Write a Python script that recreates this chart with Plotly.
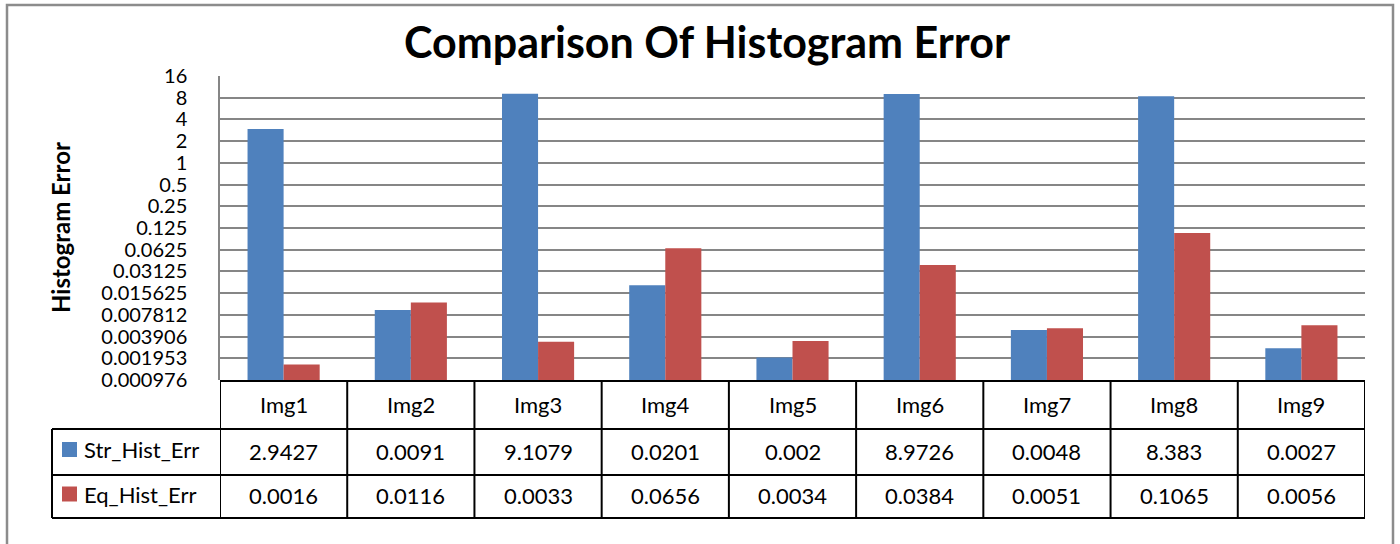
import plotly.graph_objects as go

categories = ["Img1", "Img2", "Img3", "Img4", "Img5", "Img6", "Img7", "Img8", "Img9"]
str_hist_err = [2.9427, 0.0091, 9.1079, 0.0201, 0.002, 8.9726, 0.0048, 8.383, 0.0027]
eq_hist_err = [0.0016, 0.0116, 0.0033, 0.0656, 0.0034, 0.0384, 0.0051, 0.1065, 0.0056]
series_names = ["Str_Hist_Err", "Eq_Hist_Err"]
series_colors = ["#4F81BD", "#C0504D"]
tick_vals = [16, 8, 4, 2, 1, 0.5, 0.25, 0.125, 0.0625, 0.03125, 0.015625,
             0.0078125, 0.00390625, 0.001953125, 0.0009765625]
tick_text = ["16", "8", "4", "2", "1", "0.5", "0.25", "0.125", "0.0625", "0.03125",
             "0.015625", "0.007812", "0.003906", "0.001953", "0.000976"]

W, H = 1400, 544
L, R, T, B = 220, 35, 76, 164
PW = W - L - R
PH = H - T - B
FONT = "Lato"


def px(xp):
    return (xp - L) / PW


def py(yp):
    return (H - B - yp) / PH


fig = go.Figure()
series = [str_hist_err, eq_hist_err]
for name, vals, col in zip(series_names, series, series_colors):
    fig.add_trace(go.Bar(x=categories, y=vals, name=name, marker_color=col,
                         marker_line_width=0, showlegend=False))

shapes = []
ann = []
line = dict(color="black", width=2)

# table rows (pixel y)
y_top, y_r1, y_r2, y_bot = 381, 429, 475, 518
n = len(categories)
shapes.append(dict(type="line", xref="x", yref="paper", x0=-0.5, x1=n - 0.5,
                   y0=py(y_top), y1=py(y_top), line=line))
for yy in (y_r1, y_r2, y_bot):
    shapes.append(dict(type="line", xref="paper", yref="paper", x0=px(52), x1=1,
                       y0=py(yy), y1=py(yy), line=line))
for i in range(n + 1):
    shapes.append(dict(type="line", xref="x", yref="paper", x0=i - 0.5, x1=i - 0.5,
                       y0=py(y_top), y1=py(y_bot), line=line))
shapes.append(dict(type="line", xref="paper", yref="paper", x0=px(52), x1=px(52),
                   y0=py(y_r1), y1=py(y_bot), line=line))

tfont = dict(family=FONT, size=22, color="black")
for i, c in enumerate(categories):
    for text, ya, yb in ((c, y_top, y_r1),
                         (str(str_hist_err[i]), y_r1, y_r2),
                         (str(eq_hist_err[i]), y_r2, y_bot)):
        ann.append(dict(x=c, xref="x", yref="paper", y=py((ya + yb) / 2 - 1), text=text,
                        xanchor="center", yanchor="middle", showarrow=False, font=tfont))

for k, (name, col) in enumerate(zip(series_names, series_colors)):
    ytop, ybot = [(y_r1, y_r2), (y_r2, y_bot)][k]
    yc = (ytop + ybot) / 2
    shapes.append(dict(type="rect", xref="paper", yref="paper", x0=px(62), x1=px(77),
                       y0=py(yc - 10), y1=py(yc + 5), fillcolor=col, line_width=0))
    ann.append(dict(x=px(82), xref="paper", yref="paper", y=py(yc - 2), text=name,
                    xanchor="left", yanchor="middle", showarrow=False, font=tfont))

# axis title
ann.append(dict(x=px(60), y=py(228), xref="paper", yref="paper", text="<b>Histogram Error</b>",
                xanchor="center", yanchor="middle",
                textangle=-90, showarrow=False, font=dict(family=FONT, size=24, color="black")))

# outer frame
shapes.append(dict(type="rect", xref="paper", yref="paper", x0=px(7), x1=px(1393),
                   y0=py(560), y1=py(5), line=dict(color="#8c8c8c", width=2.5),
                   fillcolor="rgba(0,0,0,0)", layer="below"))

fig.update_layout(
    width=W, height=H,
    margin=dict(l=L, r=R, t=T, b=B),
    paper_bgcolor="white", plot_bgcolor="white",
    barmode="group", bargap=0.433, bargroupgap=0,
    title=dict(text="<b>Comparison Of Histogram Error</b>", x=(707 / W), xanchor="center",
               y=1 - 43 / H, yanchor="middle", yref="container",
               font=dict(family=FONT, size=43, color="black")),
    shapes=shapes, annotations=ann,
    font=dict(family=FONT, size=20, color="black"),
)
fig.update_xaxes(showticklabels=False, showgrid=False, showline=False, zeroline=False,
                 range=[-0.5, n - 0.5])
fig.update_yaxes(type="log", range=[-3.0103, 1.20412], tickvals=tick_vals, ticktext=tick_text,
                 showgrid=True, gridcolor="#868686", gridwidth=1.5,
                 showline=True, linecolor="#868686", linewidth=1.5,
                 ticks="", ticklabelstandoff=27, zeroline=False,
                 tickfont=dict(family=FONT, size=20, color="black"))

fig.write_html("out.html")
